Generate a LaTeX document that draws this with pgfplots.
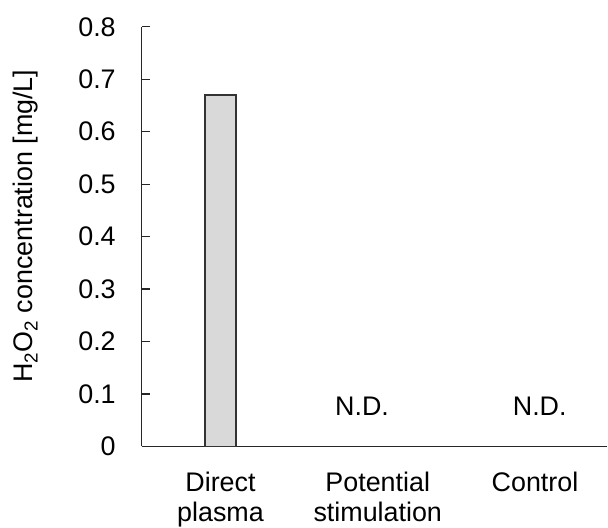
\documentclass[border=0pt]{standalone}
\usepackage{fontspec}
\setmainfont{Liberation Sans}
\usepackage{pgfplots}
\pgfplotsset{compat=1.18}
\newcommand{\bigf}{\fontsize{27}{31}\selectfont}
\begin{document}
\begin{tikzpicture}[font=\bigf]
\begin{axis}[
  scale only axis,
  width=466bp, height=420bp,
  xmin=-0.5, xmax=2.46,
  ymin=0, ymax=0.8,
  axis lines*=left,
  axis line style={black!85, line width=1.3bp, -},
  clip=false,
  xtick={0,1,2},
  xticklabels={{Direct\\plasma},{Potential\\stimulation},{Control}},
  xtick style={draw=none},
  minor xtick={0.5,1.5},
  minor x tick style={black!85, line width=1.3bp},
  minor tick length=8bp,
  major tick length=8bp,
  tick align=inside,
  ytick={0,0.1,...,0.8},
  ytick style={black!85, line width=1.3bp},
  yticklabel style={font=\bigf, inner sep=0pt, xshift=-26bp},
  xticklabel style={font=\bigf, align=center, inner sep=0pt, yshift=-25bp},
  /pgf/number format/assume math mode=true,
  /pgf/number format/fixed,
  ylabel={H\textsubscript{2}O\textsubscript{2} concentration [mg/L]},
  ylabel style={font=\bigf, at={(axis description cs:-0.234,0.525)}, anchor=base, rotate=0},
]
\addplot[ybar, bar width=31bp, fill=black!15, draw=black!80, line width=1.5bp]
  coordinates {(0,0.67)};
\node[anchor=base, font=\bigf] at (axis cs:0.9,0.058) {N.D.};
\node[anchor=base, font=\bigf] at (axis cs:2.03,0.058) {N.D.};
\path (axis description cs:-0.3047,-0.193) rectangle (axis description cs:1,1.064);
\end{axis}
\end{tikzpicture}
\end{document}
